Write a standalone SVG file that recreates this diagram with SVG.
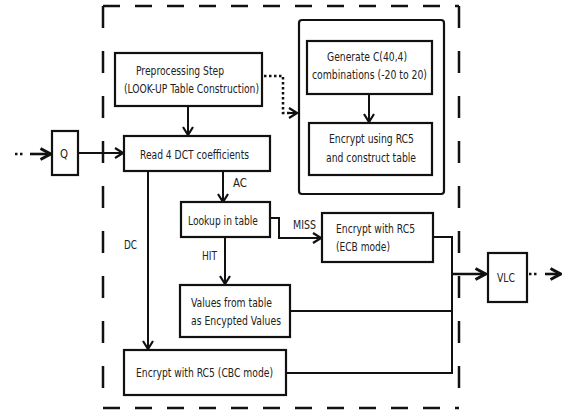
<svg xmlns="http://www.w3.org/2000/svg" width="563" height="410" viewBox="0 0 563 410">
<style>
.bx{fill:#fff;stroke:#111;stroke-width:2.2}
.ln{fill:none;stroke:#111;stroke-width:2}
.ar{fill:none;stroke:#111;stroke-width:2;marker-end:url(#ah)}
.arb{fill:none;stroke:#111;stroke-width:2.6;marker-end:url(#ahb)}
.dh{fill:none;stroke:#111;stroke-width:2.5;stroke-dasharray:17 15}
.dv{fill:none;stroke:#111;stroke-width:2.5;stroke-dasharray:22 23}
.dt{fill:none;stroke:#111;stroke-width:2.5;stroke-dasharray:2.5 2.5}
text{font-family:"DejaVu Sans Condensed","DejaVu Sans",sans-serif;font-size:12px;fill:#222}
</style>
<defs>
<marker id="ah" viewBox="0 0 10 12" refX="9" refY="6" markerWidth="10" markerHeight="12" markerUnits="userSpaceOnUse" orient="auto">
<path d="M1,1 L9,6 L1,11" fill="none" stroke="#111" stroke-width="2.2"/>
</marker>
<marker id="ahb" viewBox="0 0 13 14" refX="12" refY="7" markerWidth="13" markerHeight="14" markerUnits="userSpaceOnUse" orient="auto">
<path d="M1.5,1.5 L11.5,7 L1.5,12.5" fill="none" stroke="#111" stroke-width="3"/>
</marker>
</defs>
<g id="frame">
<path class="dh" d="M103,6 H459"/>
<path class="dh" d="M103,408 H459"/>
<path class="dv" d="M103,6 V408"/>
<path class="dv" d="M459,6 V408"/>
<rect x="299" y="20" width="145" height="174" rx="3" fill="none" stroke="#111" stroke-width="2.2"/>
</g>
<g id="connectors">
<path class="dt" d="M15,154 H23"/>
<path class="arb" d="M30,154 H51"/>
<path class="ar" d="M78,153 H123"/>
<path class="ar" d="M188,106 V135"/>
<path class="dt" d="M264,76 H283 V113 H290"/>
<path class="ar" d="M289,113 H297"/>
<path class="ar" d="M369,94 V122"/>
<path class="ar" d="M223,171 V202"/>
<path class="ar" d="M270,218 H279 V238 H321"/>
<path class="ar" d="M225,237 V284"/>
<path class="ar" d="M148,171 V349"/>
<path class="ln" d="M433,237 H452 V373 H286"/>
<path class="ln" d="M290,311 H452"/>
<path class="arb" d="M452,274 H486"/>
<path class="dt" d="M529,274 H537"/>
<path class="arb" d="M545,274 H561"/>
</g>
<g id="q">
<rect class="bx" x="52" y="131" width="26" height="44"/>
<text x="60" y="158" textLength="8" lengthAdjust="spacingAndGlyphs">Q</text>
</g>
<g id="preprocessing">
<rect class="bx" x="115" y="53" width="147" height="53"/>
<text x="136" y="75" textLength="88" lengthAdjust="spacingAndGlyphs">Preprocessing Step</text>
<text x="124" y="93" textLength="135" lengthAdjust="spacingAndGlyphs">(LOOK-UP Table Construction)</text>
</g>
<g id="read">
<rect class="bx" x="124" y="136" width="146" height="35"/>
<text x="140" y="159" textLength="109" lengthAdjust="spacingAndGlyphs">Read 4 DCT coefficients</text>
</g>
<g id="generate">
<rect class="bx" x="307" y="41" width="125" height="53"/>
<text x="327" y="61" textLength="80" lengthAdjust="spacingAndGlyphs">Generate C(40,4)</text>
<text x="312" y="79" textLength="115" lengthAdjust="spacingAndGlyphs">combinations (-20 to 20)</text>
</g>
<g id="encrypt-table">
<rect class="bx" x="309" y="123" width="123" height="52"/>
<text x="329" y="143" textLength="85" lengthAdjust="spacingAndGlyphs">Encrypt using RC5</text>
<text x="326" y="162" textLength="90" lengthAdjust="spacingAndGlyphs">and construct table</text>
</g>
<g id="lookup">
<rect class="bx" x="181" y="202" width="89" height="35"/>
<text x="188" y="225" textLength="70" lengthAdjust="spacingAndGlyphs">Lookup in table</text>
</g>
<g id="ecb">
<rect class="bx" x="322" y="213" width="111" height="49"/>
<text x="336" y="233" textLength="79" lengthAdjust="spacingAndGlyphs">Encrypt with RC5</text>
<text x="336" y="251" textLength="54" lengthAdjust="spacingAndGlyphs">(ECB mode)</text>
</g>
<g id="values">
<rect class="bx" x="180" y="285" width="110" height="52"/>
<text x="191" y="307" textLength="81" lengthAdjust="spacingAndGlyphs">Values from table</text>
<text x="191" y="325" textLength="90" lengthAdjust="spacingAndGlyphs">as Encypted Values</text>
</g>
<g id="cbc">
<rect class="bx" x="124" y="350" width="162" height="45"/>
<text x="136" y="377" textLength="137" lengthAdjust="spacingAndGlyphs">Encrypt with RC5 (CBC mode)</text>
</g>
<g id="vlc">
<rect class="bx" x="488" y="253" width="39" height="49"/>
<text x="497" y="282" textLength="18" lengthAdjust="spacingAndGlyphs">VLC</text>
</g>
<g id="labels">
<text x="233" y="187" textLength="14" lengthAdjust="spacingAndGlyphs">AC</text>
<text x="293" y="229" textLength="23" lengthAdjust="spacingAndGlyphs">MISS</text>
<text x="202" y="260" textLength="15" lengthAdjust="spacingAndGlyphs">HIT</text>
<text x="124" y="249" textLength="13" lengthAdjust="spacingAndGlyphs">DC</text>
</g>
</svg>
